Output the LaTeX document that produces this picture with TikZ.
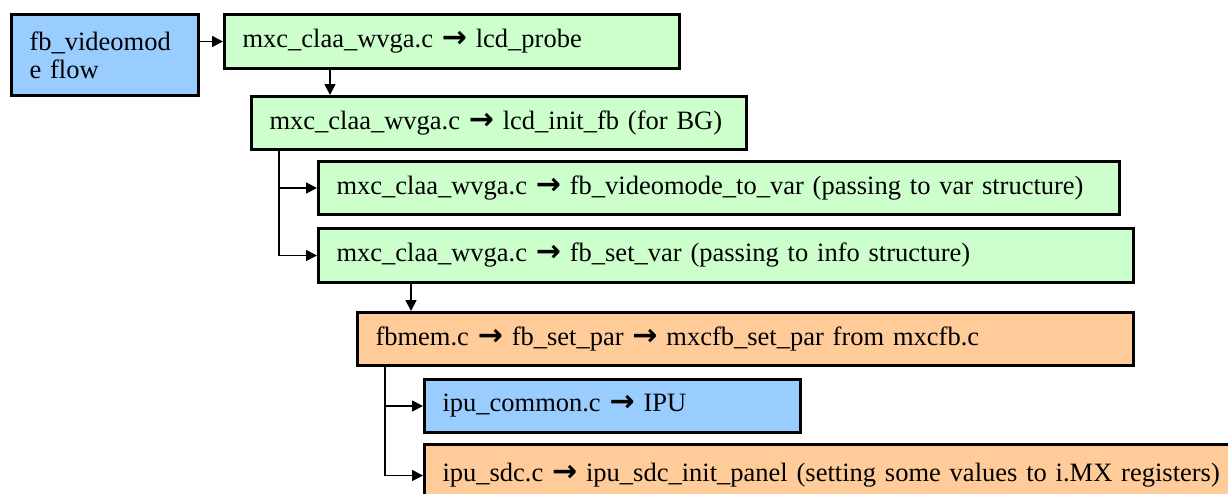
\documentclass[tikz,border=0pt]{standalone}
\usepackage{fontspec}
\usepackage{tikz}
\usepackage{xcolor}
\usetikzlibrary{arrows.meta}
\setmainfont{Liberation Serif}
\newfontfamily\symfont{DejaVu Sans}
\newcommand\rarr{{\symfont\bfseries\fontsize{30}{26}\selectfont →}}
\definecolor{fnblue}{HTML}{99CCFF}
\definecolor{fngreen}{HTML}{CCFFCC}
\definecolor{fnorange}{HTML}{FFCC99}
\tikzset{
  box/.style={draw, line width=3pt, anchor=north west, inner xsep=18pt,
    inner ysep=0pt, align=left, font=\fontsize{26.5}{28}\selectfont},
  link/.style={line width=1.7pt, -{Triangle[length=11pt,width=11pt]}}
}

\begin{document}
\begin{tikzpicture}[x=1pt,y=-1pt]
\useasboundingbox (0,0) rectangle (1228,493);
\clip (0,0) rectangle (1228,493);
% top row
\node[box,fill=fnblue,text width=151pt,minimum height=81pt] (b0) at (10,13)
  {fb\_videomod\\e flow};
\node[box,fill=fngreen,text width=419pt,minimum height=54pt] (b1) at (223,13)
  {mxc\_claa\_wvga.c \rarr{} lcd\_probe};
\node[box,fill=fngreen,text width=459pt,minimum height=53pt] (b2) at (250,95)
  {mxc\_claa\_wvga.c \rarr{} lcd\_init\_fb (for BG)};
% var / info
\node[box,fill=fngreen,text width=765pt,minimum height=53pt] (b3) at (317,160)
  {mxc\_claa\_wvga.c \rarr{} fb\_videomode\_to\_var (passing to var structure)};
\node[box,fill=fngreen,text width=779pt,minimum height=54pt] (b4) at (317,227)
  {mxc\_claa\_wvga.c \rarr{} fb\_set\_var (passing to info structure)};
% set_par
\node[box,fill=fnorange,text width=740pt,minimum height=53pt] (b5) at (356,311)
  {fbmem.c \rarr{} fb\_set\_par \rarr{} mxcfb\_set\_par from mxcfb.c};
\node[box,fill=fnblue,text width=340pt,minimum height=53pt] (b6) at (423,378)
  {ipu\_common.c \rarr{} IPU};
\node[box,fill=fnorange,text width=781pt,minimum height=62pt] (b7) at (423,443)
  {ipu\_sdc.c \rarr{} ipu\_sdc\_init\_panel (setting some values to i.MX registers)};
% connectors
\coordinate (t12) at ([xshift=80pt]b2.north west);
\coordinate (t2) at ([xshift=29pt]b2.south west);
\coordinate (t45) at ([xshift=55pt]b5.north west);
\coordinate (t5) at ([xshift=29pt]b5.south west);
\draw[link] (b0.east |- b1) -- (b1.west);
\draw[link] (b1.south -| t12) -- (t12);
\draw[link] (t2) |- (b3.west);
\draw[link] (t2) |- (b4.west);
\draw[link] (b4.south -| t45) -- (t45);
\draw[link] (t5) |- (b6.west);
\draw[link] (t5) |- (b7.west);
\end{tikzpicture}
\end{document}
